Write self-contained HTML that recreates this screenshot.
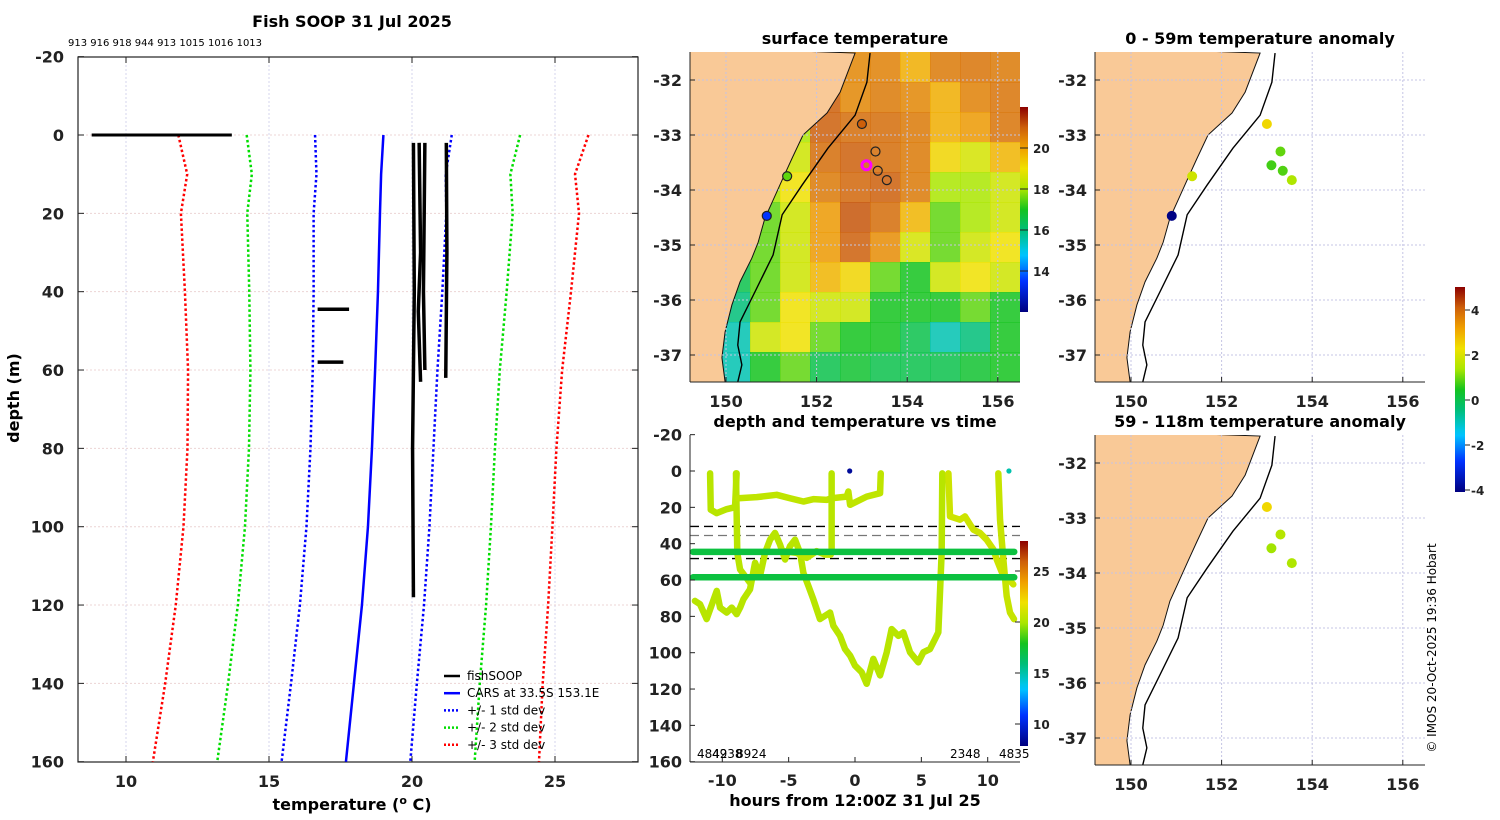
<!DOCTYPE html>
<html><head><meta charset="utf-8"><style>
html,body{margin:0;padding:0;background:#fff;}
svg{display:block;font-family:"DejaVu Sans","Liberation Sans",sans-serif;}
.tk{font-size:16px;font-weight:bold;fill:#222;}
.ttl{font-size:16px;font-weight:bold;fill:#000;}
.lg{font-size:12px;fill:#000;}
</style></head><body>
<svg id="fig" width="1500" height="820" viewBox="0 0 1500 820"></svg>
<script>
// ---------- data ----------
const profDepths = [0,10,20,40,60,80,100,120,140,160];
const carsMean   = [19.0,18.92,18.88,18.81,18.71,18.6,18.46,18.25,17.97,17.69];
const carsStd    = [2.39,2.26,2.32,2.25,2.18,2.15,2.15,2.17,2.2,2.25];
const stdMult = [1,2,3];
const stdColors = ['#0000ff','#00dd00','#ff0000'];
const soopSurfT = [8.8,13.7];
const soopProfiles = [
  [[20.05,2],[20.08,40],[20.02,80],[20.05,118]],
  [[20.25,2],[20.3,30],[20.22,45],[20.3,63]],
  [[20.45,2],[20.4,40],[20.45,60]],
  [[21.2,2],[21.22,30],[21.18,62]],
  [[16.7,44.5],[17.8,44.5]],
  [[16.7,58],[17.6,58]]
];
const tempTicks = [10,15,20,25];
const depthTicks = [-20,0,20,40,60,80,100,120,140,160];
const topNumbers = "913 916 918 944 913 1015 1016 1013";

const sstGrid = [
 [17,17,17,18,20.4,20.4,20.5,19.8,20.6,20.7,20.6],
 [17,17,17,18,21.0,20.4,20.6,20.4,19.8,20.5,20.7],
 [17,17,17,18,21.0,20.8,20.8,20.6,19.8,20.1,20.7],
 [17,17,18,18.5,20.8,21.0,20.8,20.6,19.2,18.6,19.7],
 [17,17,18,19,20.6,20.9,21.0,20.6,18,18,18.5],
 [17,17,17.5,18.5,20.1,21.1,20.8,19.7,17.5,18,18.5],
 [16.5,17,17.5,18.5,20.1,21.0,20.3,18.6,17.5,18.5,19],
 [16,16.5,17.5,18.5,19.7,19.2,17.5,17,18.5,19,18.5],
 [15.5,16,17.5,19,18.5,18.5,17,17,17,17.5,17],
 [15,15.5,18.5,19,17.5,17,17,16.5,15.5,16,17],
 [15,15.5,17,17.5,16.5,16.8,16.5,16.5,16.5,16.8,17]
];
const coastLon = [152.85,152.52,152.23,151.70,151.46,151.26,151.02,150.86,150.71,150.57,150.31,150.13,149.98,149.91,149.98];
const coastLat = [-31.51,-32.22,-32.6,-33.0,-33.42,-33.78,-34.22,-34.51,-34.95,-35.24,-35.67,-36.09,-36.58,-37.05,-37.49];
const shelfLon = [153.18,153.11,152.85,152.25,151.68,151.24,151.04,150.64,150.31,150.26,150.35,150.26];
const shelfLat = [-31.51,-32.04,-32.64,-33.24,-33.91,-34.45,-35.18,-35.85,-36.4,-36.82,-37.18,-37.49];
const stnLon = [153.0,153.3,153.1,153.35,153.55,151.35,150.9];
const stnLat = [-32.8,-33.3,-33.55,-33.65,-33.82,-33.75,-34.47];
const stnSST = [21.0,null,null,null,null,17.5,13.5];
const anomUpper = [2.5,1.0,0.8,0.9,1.5,1.9,-4.0];
const anomLower = [2.5,1.6,1.4,null,1.5,null,null];
const lonTicks = [150,152,154,156];
const latTicks = [-32,-33,-34,-35,-36,-37];
const anomTicks = [-4,-2,0,2,4];
const sstTicks = [14,16,18,20];

const segT = [
 [-12.06,-11.68,-11.18,-10.42,-10.17,-9.67,-9.29,-8.92,-8.66,-8.41,-7.91,-7.53,-7.16,-6.78,-6.40,-6.03,-5.65,-5.27,-4.90,-4.52,-4.14,-3.89,-3.51,-3.14,-2.64,-2.26,-1.88,-1.63,-1.13,-0.75,-0.37,0.0,0.5,0.88,1.38,1.89,2.39,2.76,3.27,3.64,4.15,4.77,5.15,5.65,6.03,6.28,6.53,6.58],
 [-10.92,-10.87,-10.42,-9.67,-9.04,-8.92],
 [-8.97,-8.87,-8.66,-8.29,-7.91],
 [-8.79,-7.41,-5.90,-4.90,-3.89,-3.14,-2.13,-1.76,-0.63,-0.50,-0.37,0.88,1.89,1.94],
 [-1.76,-1.76],
 [-5.40,-4.39,-3.64,-2.89,-2.26,-1.83],
 [7.04,7.16,7.91,8.29,8.92,9.42,9.92,10.43,10.68,11.18,11.56,11.93],
 [10.80,10.93,11.18,11.43,11.68,11.98]
];
const segD = [
 [71.5,73.3,81.5,66.0,75.2,77.9,75.2,78.8,75.2,70.6,65.1,50.5,57.8,45.1,37.8,34.1,40.5,48.7,41.4,37.8,45.1,56.0,63.3,70.6,81.5,79.7,77.9,85.2,90.7,98.0,101.6,107.1,110.7,117.1,103.4,112.5,99.8,87.0,90.7,88.8,99.8,105.3,99.8,98.0,92.5,88.8,45.1,1.3],
 [1.3,21.3,23.2,21.0,19.9,1.3],
 [1.3,45.1,54.2,57.8,61.5],
 [15.0,14.4,13.1,15.0,16.8,15.5,15.9,15.0,14.1,11.3,18.6,14.1,12.2,1.3],
 [1.3,45.1],
 [44.1,45.1,47.8,44.1,46.0,46.0],
 [1.3,25.0,26.8,25.0,32.3,34.1,37.8,43.2,48.7,57.8,59.6,62.4],
 [1.3,26.8,48.7,68.8,77.9,81.5]
];
const segTemp = [20.4,20.4,20.4,20.6,20.4,20.6,21.0,20.8];
const mooringDepths = [44.5,58.5];
const mooringTemp = 17.2;
const dotT = [-0.4,11.6];
const dotTemp = [8.5,15.0];
const dashDepths = [30.5,35.5,48.2];
const dashColors = ['#000','#777','#000'];
const hourTicks = [-10,-5,0,5,10];
const dtDepthTicks = [-20,0,20,40,60,80,100,120,140,160];
const tempCbTicks = [10,15,20,25];

// ---------- helpers ----------
const NS='http://www.w3.org/2000/svg';
const svg=document.getElementById('fig');
function el(tag,attrs,parent){const e=document.createElementNS(NS,tag);for(const k in attrs)e.setAttribute(k,attrs[k]);(parent||svg).appendChild(e);return e;}
function txt(s,x,y,cls,anchor,parent){const t=el('text',{x:x,y:y,class:cls||'tk','text-anchor':anchor||'middle'},parent);t.textContent=s;return t;}
const cmapStops=[[0,[0,0,127]],[0.15,[0,50,255]],[0.28,[0,200,255]],[0.4,[0,190,120]],[0.5,[20,195,30]],[0.6,[170,230,0]],[0.7,[240,225,0]],[0.8,[240,160,0]],[0.9,[205,95,10]],[1,[140,0,0]]];
function jet(v){v=Math.max(0,Math.min(1,v));for(let i=1;i<cmapStops.length;i++){const a=cmapStops[i-1],b=cmapStops[i];if(v<=b[0]){const f=(v-a[0])/(b[0]-a[0]);const c=a[1].map((x,k)=>Math.round(x+(b[1][k]-x)*f));return `rgb(${c[0]},${c[1]},${c[2]})`;}}return 'rgb(140,0,0)';}

// ---------- left panel ----------
const L={x0:78,x1:638,y0:57,y1:762};
const tx=T=>126+(T-10)*28.6;
const dy=d=>135+d*3.917;
const gL=el('g',{});


tempTicks.forEach(t=>{el('line',{x1:tx(t),x2:tx(t),y1:L.y0,y2:L.y1,stroke:'#d4d4ec','stroke-dasharray':'2,2'},gL);
  el('line',{x1:tx(t),x2:tx(t),y1:L.y1,y2:L.y1-6,stroke:'#222'},gL);el('line',{x1:tx(t),x2:tx(t),y1:L.y0,y2:L.y0+6,stroke:'#222'},gL);
  const lab=txt(String(t),tx(t),787,'tk','middle',gL);});
depthTicks.forEach(d=>{if(d>-20&&d<160)el('line',{x1:L.x0,x2:L.x1,y1:dy(d),y2:dy(d),stroke:'#ecd4d4','stroke-dasharray':'2,2'},gL);
  el('line',{x1:L.x0,x2:L.x0+6,y1:dy(d),y2:dy(d),stroke:'#222'},gL);el('line',{x1:L.x1,x2:L.x1-6,y1:dy(d),y2:dy(d),stroke:'#222'},gL);
  const lab=txt(String(d),64,dy(d)+6,'tk','end',gL);});
el('rect',{x:L.x0,y:L.y0,width:L.x1-L.x0,height:L.y1-L.y0,fill:'none',stroke:'#222','stroke-width':1.2},gL);
stdMult.forEach((k,i)=>{[-1,1].forEach(s=>{
  const p=profDepths.map((d,j)=>`${tx(carsMean[j]+s*k*carsStd[j])},${dy(d)}`).join(' ');
  const pl=el('polyline',{points:p,fill:'none',stroke:stdColors[i],'stroke-width':2.5,'stroke-dasharray':'2.5,2.5'},gL);
  
  
});});
const cars=el('polyline',{points:profDepths.map((d,j)=>`${tx(carsMean[j])},${dy(d)}`).join(' '),fill:'none',stroke:'#0000ff','stroke-width':2.5},gL);


const surf=el('line',{x1:tx(soopSurfT[0]),x2:tx(soopSurfT[1]),y1:dy(0),y2:dy(0),stroke:'#000','stroke-width':3},gL);


soopProfiles.forEach(pr=>{const pl=el('polyline',{points:pr.map(p=>`${tx(p[0])},${dy(p[1])}`).join(' '),fill:'none',stroke:'#000','stroke-width':3.5},gL);
  
  });
txt('Fish SOOP 31 Jul 2025',352,27,'ttl','middle',gL);
const tn=txt(topNumbers,68,46,'lg','start',gL);tn.setAttribute('style','font-size:10px');
const yl=txt('depth (m)',0,0,'ttl','middle',gL);yl.setAttribute('transform','translate(19,398) rotate(-90)');

const xl=el('text',{x:352,y:810,class:'ttl','text-anchor':'middle'},gL);xl.innerHTML='temperature (<tspan dy="-6" style="font-size:11px">o</tspan><tspan dy="6"> C)</tspan>';

const legItems=[['fishSOOP','#000',null],['CARS at 33.5S 153.1E','#0000ff',null],['+/- 1 std dev','#0000ff','2,2'],['+/- 2 std dev','#00dd00','2,2'],['+/- 3 std dev','#ff0000','2,2']];
legItems.forEach((it,i)=>{const y=676+i*17.2;const g=el('g',{},gL);
  
  const a={x1:444,x2:460,y1:y,y2:y,stroke:it[1],'stroke-width':2.5};if(it[2])a['stroke-dasharray']=it[2];el('line',a,g);
  txt(it[0],467,y+4,'lg','start',g);});

// ---------- maps ----------
function mapPanel(ox,oy,name){
  const g=el('g',{transform:`translate(${ox},${oy})`});
  
  
  return g;}
const mx=lon=>726+(lon-150)*45.3;
const my=lat=>80+(-32-lat)*55;
const M={x0:690,x1:1020,y0:52,y1:382};
let clipN=0;
function drawBase(g,withSST){
  const cid='clip'+(clipN++);
  const cp=el('clipPath',{id:cid},g);el('rect',{x:M.x0,y:M.y0,width:M.x1-M.x0,height:M.y1-M.y0},cp);
  const inner=el('g',{'clip-path':`url(#${cid})`},g);
  if(withSST){
    const nR=sstGrid.length,nC=sstGrid[0].length;const cw=(M.x1-M.x0)/nC,ch=(M.y1-M.y0)/nR;
    sstGrid.forEach((row,r)=>row.forEach((v,c)=>{const rc=el('rect',{x:M.x0+c*cw,y:M.y0+r*ch,width:cw+0.6,height:ch+0.6,fill:jet((v-12)/10),'fill-opacity':0.85},inner);
      
      }));
  }
  const land=coastLon.map((l,i)=>`${mx(l)},${my(coastLat[i])}`);land.push(`${M.x0-5},${M.y1+5}`);land.push(`${M.x0-5},${M.y0-5}`);
  const lp=el('polygon',{points:land.join(' '),fill:'#f9c997',stroke:'#111','stroke-width':1},inner);
  
  lonTicks.forEach(l=>el('line',{x1:mx(l),x2:mx(l),y1:M.y0,y2:M.y1,stroke:'#c4c4e4','stroke-dasharray':'2,2'},inner));
  latTicks.forEach(l=>el('line',{x1:M.x0,x2:M.x1,y1:my(l),y2:my(l),stroke:'#c4c4e4','stroke-dasharray':'2,2'},inner));
  const sh=el('polyline',{points:shelfLon.map((l,i)=>`${mx(l)},${my(shelfLat[i])}`).join(' '),fill:'none',stroke:'#000','stroke-width':1.4},inner);
  
  el('line',{x1:M.x0,x2:M.x0,y1:M.y0,y2:M.y1,stroke:'#222'},g);
  el('line',{x1:M.x0,x2:M.x1,y1:M.y1,y2:M.y1,stroke:'#222'},g);
  lonTicks.forEach(l=>{el('line',{x1:mx(l),x2:mx(l),y1:M.y1,y2:M.y1-5,stroke:'#222'},g);
    const t=txt(String(l),mx(l),407,'tk','middle',g);});
  latTicks.forEach(l=>{el('line',{x1:M.x0,x2:M.x0+5,y1:my(l),y2:my(l),stroke:'#222'},g);
    const t=txt(String(l),682,my(l)+6,'tk','end',g);});
}
const g1=mapPanel(0,0,'surface-temperature-map');
drawBase(g1,true);
stnLon.forEach((l,i)=>{const a={cx:mx(l),cy:my(stnLat[i]),r:4.5,fill:stnSST[i]==null?'none':jet((stnSST[i]-12)/10),stroke:'#222','stroke-width':1.2};
  if(i===2){a.stroke='#ff00ff';a['stroke-width']=3;a.fill='none';}
  const c=el('circle',a,g1);});
txt('surface temperature',855,44,'ttl','middle',g1);
const defs=el('defs',{});
(function(){const gr=el('linearGradient',{id:'jetg',x1:0,y1:1,x2:0,y2:0},defs);for(let i=0;i<=40;i++)el('stop',{offset:i/40,'stop-color':jet(i/40)},gr);})();
const cbs=el('rect',{x:1020,y:107,width:8,height:205,fill:'url(#jetg)'},g1);
const sy=v=>312-(v-12)*20.5;
sstTicks.forEach(v=>{el('line',{x1:1020,x2:1028,y1:sy(v),y2:sy(v),stroke:'#222'},g1);const t=txt(String(v),1033,sy(v)+5,'tk','start',g1);t.setAttribute('style','font-size:12px');});

function anomMap(oy,vals,title,name){
  const g=mapPanel(405,oy,name);
  drawBase(g,false);
  stnLon.forEach((l,i)=>{if(vals[i]==null)return;const c=el('circle',{cx:mx(l),cy:my(stnLat[i]),r:5,fill:jet((vals[i]+4.05)/9.15)},g);
    });
  txt(title,855,44,'ttl','middle',g);
  return g;}
anomMap(0,anomUpper,'0 - 59m temperature anomaly','anomaly-map-upper');
anomMap(383,anomLower,'59 - 118m temperature anomaly','anomaly-map-lower');
const acb=el('rect',{x:1455,y:287,width:10,height:205,fill:'url(#jetg)'});
const ay=v=>400-v*22.5;
anomTicks.forEach(v=>{el('line',{x1:1465,x2:1470,y1:ay(v),y2:ay(v),stroke:'#222'});const t=txt(String(v),1471,ay(v)+5,'tk','start');t.setAttribute('style','font-size:12px');});
const cr=txt('© IMOS 20-Oct-2025 19:36 Hobart',0,0,'lg','middle');cr.setAttribute('transform','translate(1436,648) rotate(-90)');


// ---------- depth vs time ----------
const hx=t=>855+t*13.27;
const hy=d=>471+d*1.817;
const B={x0:690,x1:1020,y0:435,y1:762};
const g3=el('g',{});


const cp3=el('clipPath',{id:'clipdt'},g3);el('rect',{x:B.x0,y:B.y0,width:B.x1-B.x0,height:B.y1-B.y0},cp3);
const in3=el('g',{'clip-path':'url(#clipdt)'},g3);
dashDepths.forEach((d,i)=>{const l=el('line',{x1:B.x0,x2:B.x1,y1:hy(d),y2:hy(d),stroke:dashColors[i],'stroke-width':1.3,'stroke-dasharray':'9,5'},in3);
  });
segT.forEach((ts,i)=>{const pl=el('polyline',{points:ts.map((t,j)=>`${hx(t)},${hy(segD[i][j])}`).join(' '),fill:'none',stroke:jet((segTemp[i]-7.85)/20.25),'stroke-width':6.5,'stroke-linejoin':'round','stroke-linecap':'round'},in3);
  });
mooringDepths.forEach(d=>{const l=el('line',{x1:hx(-12.2),x2:hx(12.0),y1:hy(d),y2:hy(d),stroke:jet((mooringTemp-7.85)/20.25),'stroke-width':6.5,'stroke-linecap':'round'},in3);
  });
dotT.forEach((t,i)=>{const c=el('circle',{cx:hx(t),cy:hy(0),r:2.6,fill:jet((dotTemp[i]-7.85)/20.25)},in3);});
el('line',{x1:B.x0,x2:B.x0,y1:B.y0,y2:B.y1,stroke:'#222'},g3);
el('line',{x1:B.x0,x2:B.x1,y1:B.y1,y2:B.y1,stroke:'#222'},g3);
hourTicks.forEach(t=>{el('line',{x1:hx(t),x2:hx(t),y1:B.y1,y2:B.y1-5,stroke:'#222'},g3);
  const l=txt(String(t),hx(t),786,'tk','middle',g3);});
dtDepthTicks.forEach(d=>{el('line',{x1:B.x0,x2:B.x0+5,y1:hy(d),y2:hy(d),stroke:'#222'},g3);
  const l=txt(String(d),682,hy(d)+6,'tk','end',g3);});
txt('depth and temperature vs time',855,427,'ttl','middle',g3);
txt('hours from 12:00Z 31 Jul 25',855,806,'ttl','middle',g3);
[['4842',697],['4938',712],['8924',736],['2348',950],['4835',999]].forEach(a=>txt(a[0],a[1],758,'lg','start',g3));
const tcb=el('rect',{x:1020,y:541,width:8,height:205,fill:'url(#jetg)'},g3);
const cy2=v=>724-(v-10)*10.2;
tempCbTicks.forEach(v=>{el('line',{x1:1015,x2:1020,y1:cy2(v),y2:cy2(v),stroke:'#222'},g3);const t=txt(String(v),1033,cy2(v)+5,'tk','start',g3);t.setAttribute('style','font-size:12px');});
</script>
</body></html>
